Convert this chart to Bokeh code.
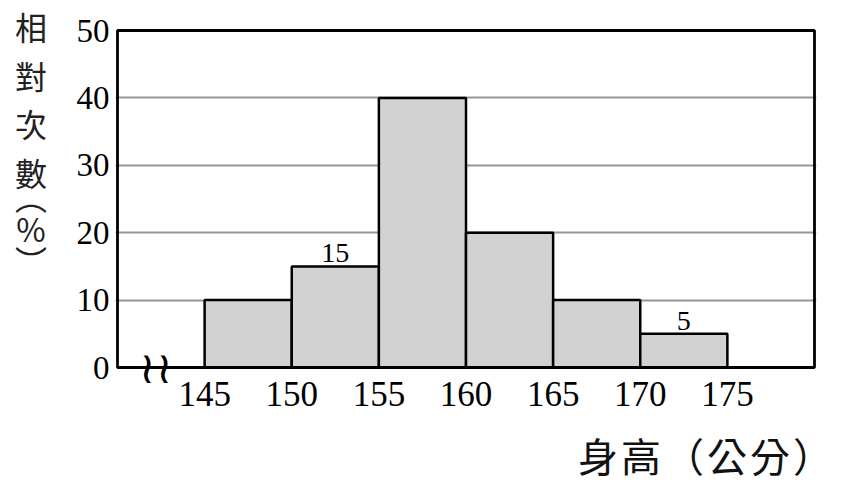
from bokeh.plotting import figure
from bokeh.models import ColumnDataSource, FixedTicker, BoxAnnotation, Range1d, Div
from bokeh.layouts import column, row
from bokeh.core.properties import value
from bokeh.embed import file_html
from bokeh.resources import INLINE

bin_left = [145, 150, 155, 160, 165, 170]
bin_right = [150, 155, 160, 165, 170, 175]
percent = [10, 15, 40, 20, 10, 5]
bar_labels = ["", "15", "", "", "", "5"]
x_ticks = [145, 150, 155, 160, 165, 170, 175]
y_ticks = [0, 10, 20, 30, 40, 50]
grid_ticks = [10, 20, 30, 40]
x_min, x_max = 140, 180
y_min, y_max = 0, 50
x_title = "身高（公分）"
y_title_head = "相對次"
y_title_tail = "數"
y_title_unit = "（%）"
break_x = 142.2

src = ColumnDataSource(dict(
    left=bin_left, right=bin_right, top=percent,
    mid=[(a + b) / 2 for a, b in zip(bin_left, bin_right)],
    label=bar_labels,
))

# ---- layout geometry (pixels) ----
LEFT_W = 70
PLOT_H = 430
BOTTOM_H = 50
FW, FH = 697, 337          # visible box size
pad = 2                    # frame padding so the box line is not clipped
below = 20                 # extra frame room under the zero line
xpx = FW / (x_max - x_min)
ypx = FH / (y_max - y_min)
PW = 45 + FW + 2 * pad + 20

p = figure(width=PW, height=PLOT_H,
           frame_width=FW + 2 * pad, frame_height=FH + pad + below,
           x_range=Range1d(x_min - pad / xpx, x_max + pad / xpx),
           y_range=Range1d(y_min - below / ypx, y_max + pad / ypx),
           output_backend="svg", toolbar_location=None, title=None,
           min_border_left=45, min_border_top=28, min_border_right=20,
           min_border_bottom=PLOT_H - 28 - (FH + pad + below))

p.outline_line_color = None
p.xgrid.visible = False
p.ygrid.ticker = FixedTicker(ticks=grid_ticks)
p.ygrid.grid_line_color = "#959595"
p.ygrid.grid_line_width = 2.2

p.quad(left="left", right="right", bottom=0, top="top", source=src,
       fill_color="#d2d2d2", line_color="black", line_width=2.5)

p.text(x="mid", y="top", text="label", source=src,
       text_font=value("Liberation Serif"), text_font_size="28px",
       text_align="center", text_baseline="alphabetic", y_offset=-13,
       text_color="black")

p.add_layout(BoxAnnotation(left=x_min, right=x_max, bottom=y_min, top=y_max,
                           fill_alpha=0, line_color="black", line_alpha=1,
                           line_width=2.8, level="overlay"))

# axis break mark
p.text(x=[break_x], y=[0], text=["≀≀"], text_font=value("DejaVu Serif"),
       text_font_size="44px", text_align="center", text_baseline="middle",
       text_color="black")

for ax in (p.xaxis[0], p.yaxis[0]):
    ax.axis_line_color = None
    ax.major_tick_line_color = None
    ax.minor_tick_line_color = None
    ax.major_label_text_font = "Liberation Serif"
    ax.major_label_text_color = "black"

p.xaxis.major_label_text_font_size = "35px"
p.yaxis.major_label_text_font_size = "33px"
p.xaxis.ticker = FixedTicker(ticks=x_ticks)
p.xaxis.major_label_standoff = -12
p.yaxis.ticker = FixedTicker(ticks=y_ticks)
p.yaxis.major_label_standoff = 0

# ---- left: vertical y title ----
y_html = (
    '<div style="writing-mode:vertical-rl;text-orientation:upright;'
    'font-family:\'Noto Sans CJK TC\';font-size:32px;line-height:32px;color:#222;'
    'padding:12px 0 0 15px;margin:0;">'
    f'<span style="letter-spacing:16.5px">{y_title_head}</span>'
    f'<span style="letter-spacing:8px">{y_title_tail}</span>'
    f'<span style="letter-spacing:0;font-feature-settings:\'vhal\' 1">{y_title_unit}</span>'
    '</div>'
)
div_y = Div(text=y_html, width=LEFT_W, height=PLOT_H, margin=(0, 0, 0, 0))

# ---- bottom: x title ----
x_html = (
    '<div style="font-family:\'Noto Sans CJK TC\';font-size:40px;line-height:40px;'
    'letter-spacing:3px;color:#111;text-align:left;'
    'padding:5px 0 0 578px;margin:0;white-space:nowrap;">'
    f'{x_title}</div>'
)
div_x = Div(text=x_html, width=LEFT_W + PW, height=BOTTOM_H, margin=(0, 0, 0, 0))

layout = column(row(div_y, p), div_x)
open("out.html", "w").write(file_html(layout, INLINE))
